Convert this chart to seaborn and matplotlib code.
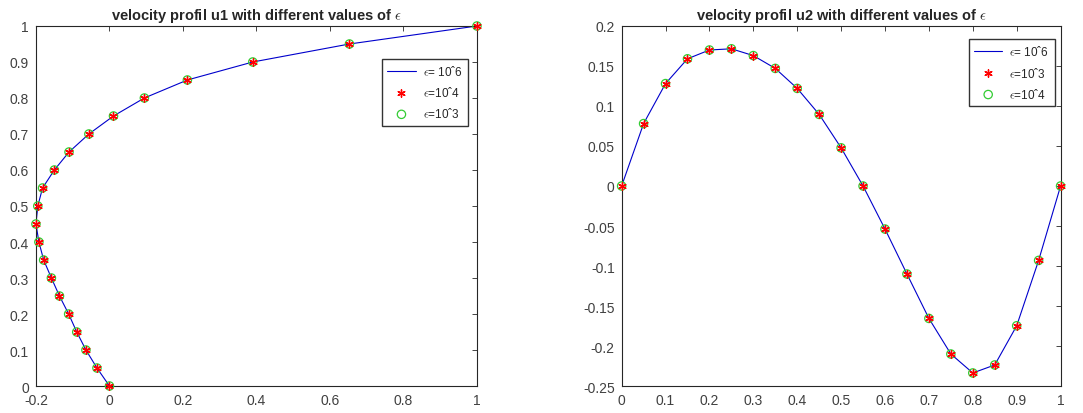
import matplotlib
matplotlib.use("Agg")
import matplotlib.pyplot as plt
import seaborn as sns
import pandas as pd
import numpy as np
from matplotlib.ticker import FuncFormatter

# u1 profile: x = velocity, y = position
u1_y = [0.0, 0.05, 0.1, 0.15, 0.2, 0.25, 0.3, 0.35, 0.4, 0.45, 0.5,
        0.55, 0.6, 0.65, 0.7, 0.75, 0.8, 0.85, 0.9, 0.95, 1.0]
u1_x = [0.0, -0.034, -0.064, -0.089, -0.111, -0.136, -0.158, -0.179, -0.192, -0.2, -0.195,
        -0.182, -0.15, -0.11, -0.056, 0.011, 0.095, 0.212, 0.39, 0.653, 1.0]

# u2 profile
u2_x = [0.0, 0.05, 0.1, 0.15, 0.2, 0.25, 0.3, 0.35, 0.4, 0.45, 0.5,
        0.55, 0.6, 0.65, 0.7, 0.75, 0.8, 0.85, 0.9, 0.95, 1.0]
u2_y = [0.0, 0.078, 0.128, 0.159, 0.170, 0.1715, 0.163, 0.147, 0.122, 0.0895, 0.0477,
        0.0, -0.0538, -0.110, -0.1655, -0.210, -0.2337, -0.2237, -0.1747, -0.093, 0.0]

left_labels = [r"$\epsilon$= 10ˆ6", r"$\epsilon$=10ˆ4", r"$\epsilon$=10ˆ3"]
right_labels = [r"$\epsilon$= 10ˆ6", r"$\epsilon$=10ˆ3", r"$\epsilon$=10ˆ4"]

sns.set_style("white")
plt.rcParams['font.family'] = ['Liberation Sans', 'DejaVu Sans']
plt.rcParams['mathtext.fontset'] = 'cm'

df1 = pd.DataFrame({'x': u1_x, 'y': u1_y})
df2 = pd.DataFrame({'x': u2_x, 'y': u2_y})

fig = plt.figure(figsize=(10.83, 4.14), dpi=100)
ax1 = fig.add_axes([0.0332, 0.0652, 0.4072, 0.8696])
ax2 = fig.add_axes([0.5740, 0.0652, 0.4053, 0.8696])

fmt = FuncFormatter(lambda v, p: "%g" % (round(v, 4) + 0.0))


def draw(ax, df, labels, sort):
    sns.lineplot(data=df, x='x', y='y', sort=sort, color='#0000cc', linewidth=0.8,
                 ax=ax, label=labels[0], estimator=None)
    sns.scatterplot(data=df, x='x', y='y', marker=(6, 2, 0), color='red', s=28,
                    linewidth=1.0, ax=ax, label=labels[1], zorder=4, clip_on=False)
    sns.scatterplot(data=df, x='x', y='y', marker='o', facecolors='none',
                    edgecolor='#33cc33', s=36, linewidth=0.9, ax=ax,
                    label=labels[2], zorder=3, clip_on=False)
    ax.set_xlabel("")
    ax.set_ylabel("")
    ax.xaxis.set_major_formatter(fmt)
    ax.yaxis.set_major_formatter(fmt)
    ax.tick_params(direction='in', length=3.5, width=0.6, top=True, right=True,
                   labelsize=10, colors='#262626', labelcolor='#404040', pad=5)
    for s in ax.spines.values():
        s.set_color('#262626')
        s.set_linewidth(0.8)


draw(ax1, df1, left_labels, False)
ax1.set_xlim(-0.2, 1)
ax1.set_ylim(0, 1)
ax1.set_xticks(np.arange(-0.2, 1.01, 0.2))
ax1.set_yticks(np.arange(0, 1.01, 0.1))
ax1.set_title(r"velocity profil u1 with different values of $\epsilon$",
              fontsize=10.5, fontweight='bold', pad=5)
leg1 = ax1.legend(loc='upper right', bbox_to_anchor=(0.985, 0.915), fontsize=8.5,
                  fancybox=False, edgecolor='#333333', framealpha=1, borderpad=0.45,
                  handlelength=2.4, handletextpad=0.6, labelspacing=0.6,
                  borderaxespad=0.2)

draw(ax2, df2, right_labels, True)
ax2.set_xlim(0, 1)
ax2.set_ylim(-0.25, 0.2)
ax2.set_xticks(np.arange(0, 1.01, 0.1))
ax2.set_yticks(np.arange(-0.25, 0.201, 0.05))
ax2.set_title(r"velocity profil u2 with different values of $\epsilon$",
              fontsize=10.5, fontweight='bold', pad=5)
leg2 = ax2.legend(loc='upper right', bbox_to_anchor=(0.992, 0.97), fontsize=8.5,
                  fancybox=False, edgecolor='#333333', framealpha=1, borderpad=0.45,
                  handlelength=2.4, handletextpad=0.6, labelspacing=0.6,
                  borderaxespad=0.2)

fig.savefig("out.png", dpi=100)
